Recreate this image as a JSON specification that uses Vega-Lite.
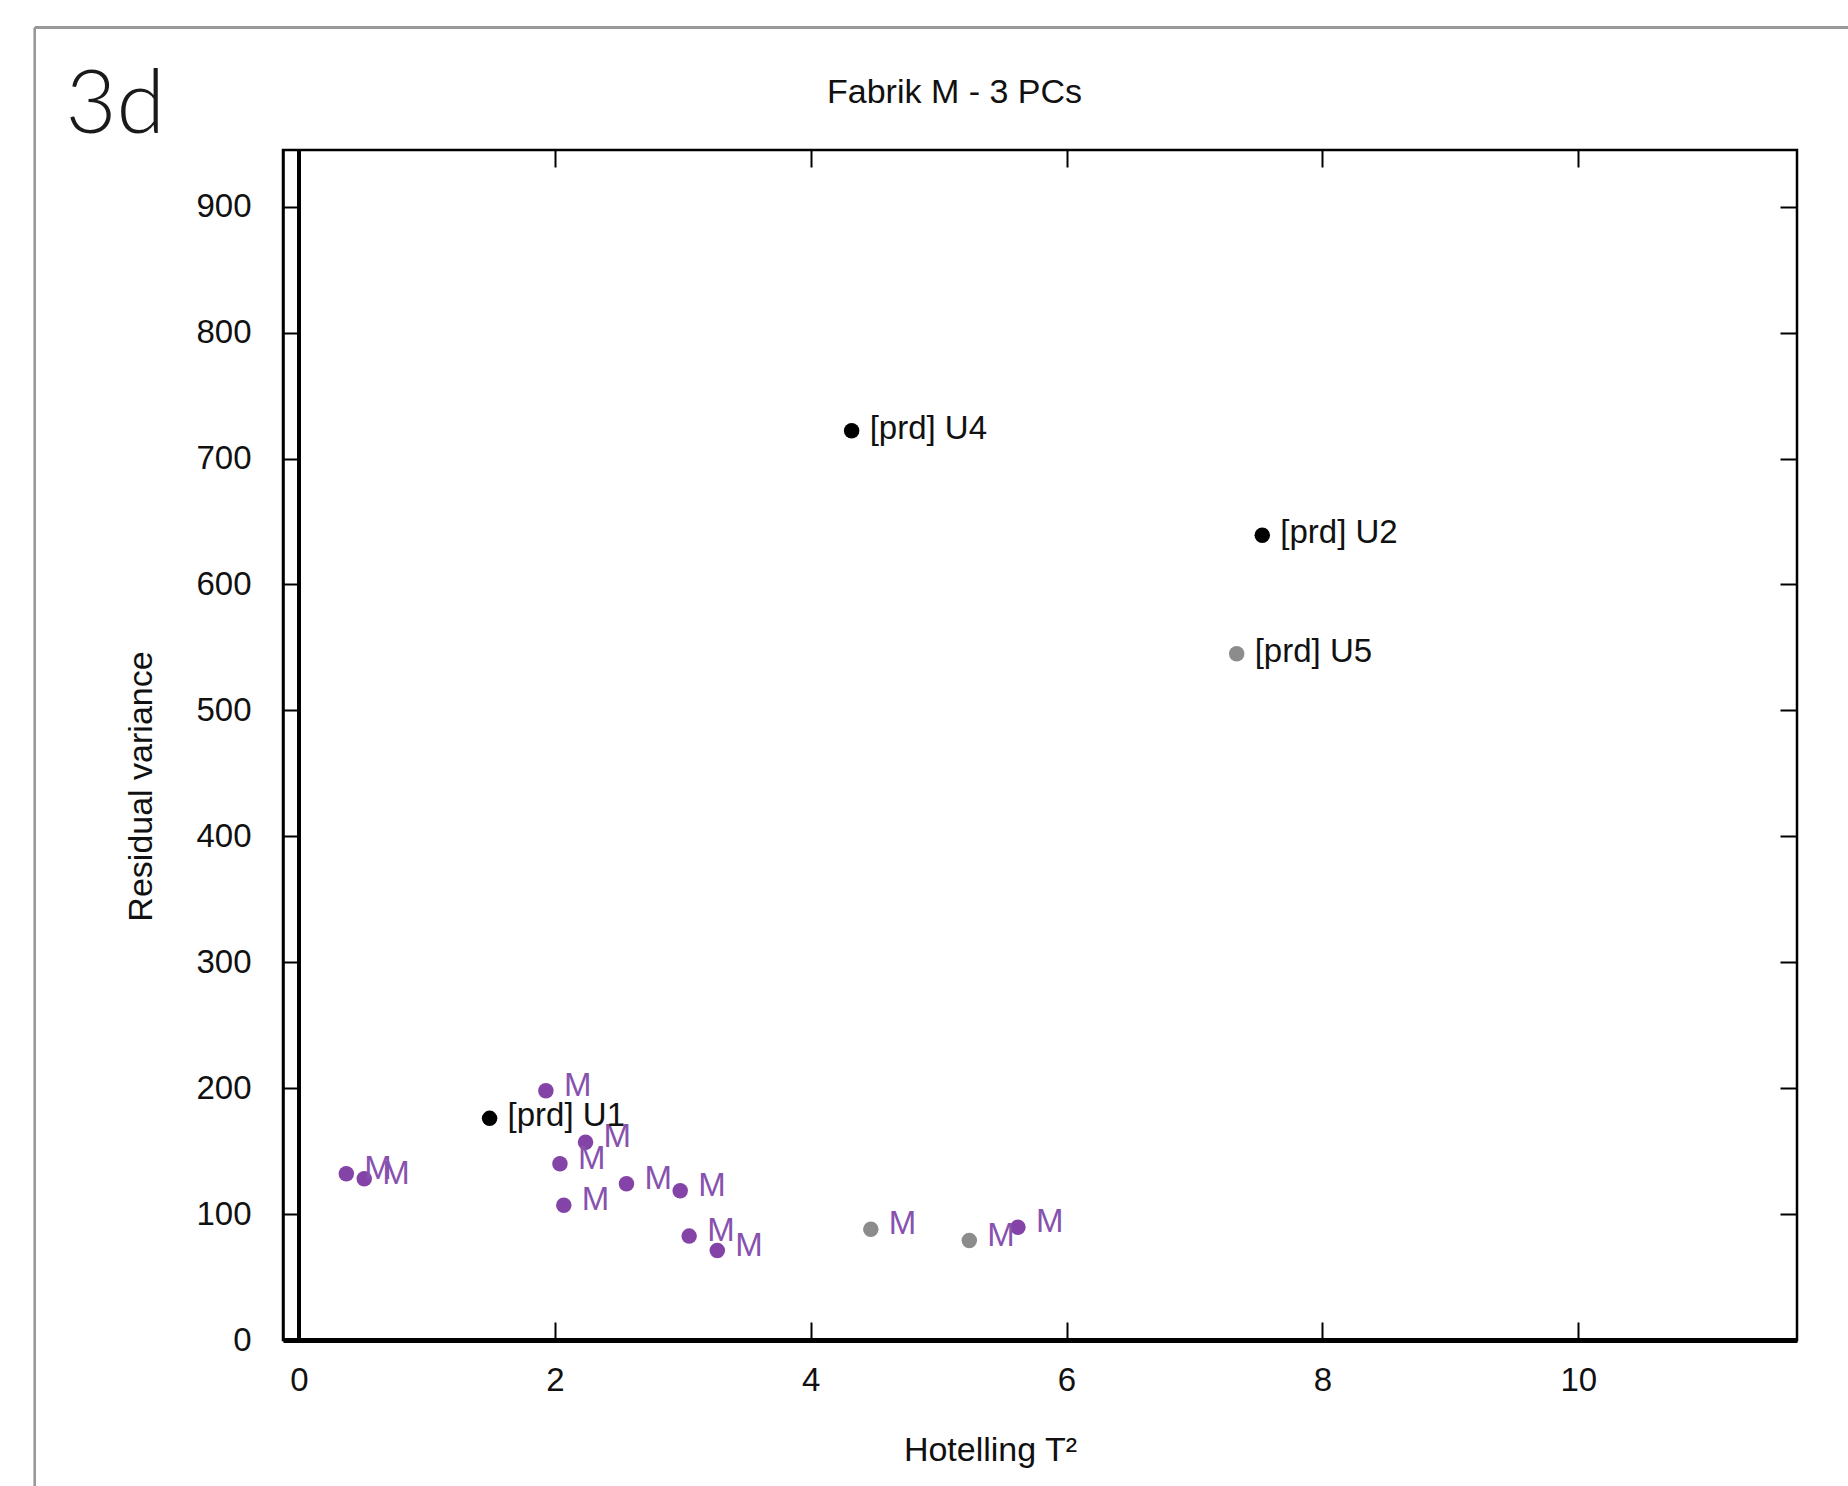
{
  "$schema": "https://vega.github.io/schema/vega-lite/v6.json",
  "width": 1514,
  "height": 1190,
  "autosize": "none",
  "padding": {"left": 283, "top": 150, "right": 51, "bottom": 146},
  "background": "white",
  "config": {
    "view": {"stroke": "#000000", "strokeWidth": 2.5},
    "font": "Liberation Sans",
    "axis": {"grid": false}
  },
  "data": {
    "values": [
      {"T2": 0.37, "RV": 132, "label": "M", "group": "M", "status": "normal"},
      {"T2": 0.51, "RV": 128, "label": "M", "group": "M", "status": "normal"},
      {"T2": 1.93, "RV": 198, "label": "M", "group": "M", "status": "normal"},
      {"T2": 2.24, "RV": 157, "label": "M", "group": "M", "status": "normal"},
      {"T2": 2.04, "RV": 140, "label": "M", "group": "M", "status": "normal"},
      {"T2": 2.07, "RV": 107, "label": "M", "group": "M", "status": "normal"},
      {"T2": 2.56, "RV": 124, "label": "M", "group": "M", "status": "normal"},
      {"T2": 2.98, "RV": 118.5, "label": "M", "group": "M", "status": "normal"},
      {"T2": 3.05, "RV": 82.5, "label": "M", "group": "M", "status": "normal"},
      {"T2": 3.27, "RV": 71, "label": "M", "group": "M", "status": "normal"},
      {"T2": 4.47, "RV": 88, "label": "M", "group": "M", "status": "flagged"},
      {"T2": 5.24, "RV": 79, "label": "M", "group": "M", "status": "flagged"},
      {"T2": 5.62, "RV": 89.5, "label": "M", "group": "M", "status": "normal"},
      {"T2": 1.49, "RV": 176, "label": "[prd] U1", "group": "prd", "status": "normal"},
      {"T2": 4.32, "RV": 722, "label": "[prd] U4", "group": "prd", "status": "normal"},
      {"T2": 7.53, "RV": 639, "label": "[prd] U2", "group": "prd", "status": "normal"},
      {"T2": 7.33, "RV": 545, "label": "[prd] U5", "group": "prd", "status": "flagged"}
    ]
  },
  "layer": [
    {
      "encoding": {
        "x": {
          "field": "T2",
          "type": "quantitative",
          "scale": {"domain": [-0.125, 11.71], "nice": false, "zero": false},
          "axis": {
            "orient": "bottom",
            "values": [0, 2, 4, 6, 8, 10],
            "tickSize": -18,
            "tickWidth": 2,
            "tickColor": "#000000",
            "domain": true,
            "domainColor": "#000000",
            "domainWidth": 5,
            "labelFontSize": 33,
            "labelColor": "#111111",
            "labelPadding": 42,
            "labelOverlap": false,
            "labelFlush": false,
            "title": "Hotelling T²",
            "titleFontSize": 34,
            "titleFontWeight": "normal",
            "titleColor": "#111111",
            "titleX": 707,
            "titleY": 110,
            "titleAlign": "center",
            "titleBaseline": "middle"
          }
        },
        "y": {
          "field": "RV",
          "type": "quantitative",
          "scale": {"domain": [0, 945], "nice": false, "zero": false},
          "axis": {
            "orient": "left",
            "values": [0, 100, 200, 300, 400, 500, 600, 700, 800, 900],
            "tickSize": -17,
            "tickWidth": 2,
            "tickColor": "#000000",
            "domain": true,
            "domainColor": "#000000",
            "domainWidth": 2.5,
            "labelFontSize": 33,
            "labelColor": "#111111",
            "labelPadding": 49,
            "labelOverlap": false,
            "title": "Residual variance",
            "titleFontSize": 34,
            "titleFontWeight": "normal",
            "titleColor": "#111111",
            "titleX": -142,
            "titleY": 636,
            "titleAlign": "center",
            "titleBaseline": "middle"
          }
        }
      },
      "layer": [
        {
          "mark": {"type": "rule", "color": "#999999", "strokeWidth": 2, "clip": false},
          "encoding": {
            "x": {"datum": -2.064},
            "y": {"datum": 1042},
            "y2": {"datum": -300}
          }
        },
        {
          "mark": {"type": "rule", "color": "#999999", "strokeWidth": 2, "clip": false},
          "encoding": {
            "y": {"datum": 1042},
            "x": {"datum": -2.064},
            "x2": {"datum": 14}
          }
        },
        {
          "mark": {"type": "rule", "color": "#000000", "strokeWidth": 2.5},
          "encoding": {
            "x": {"datum": 0},
            "y": {"datum": 0},
            "y2": {"datum": 945}
          }
        },
        {
          "mark": {"type": "point", "filled": true, "opacity": 1, "size": 240},
          "encoding": {
            "color": {
              "condition": [
                {"test": "datum.status === 'flagged'", "value": "#8c8c8c"},
                {"test": "datum.group === 'M'", "value": "#8443A6"}
              ],
              "value": "#000000"
            }
          }
        },
        {
          "transform": [{"filter": "datum.group === 'M'"}],
          "mark": {"type": "text", "align": "left", "baseline": "middle", "dx": 18, "dy": -5, "fontSize": 33, "color": "#8752AE"},
          "encoding": {"text": {"field": "label"}}
        },
        {
          "transform": [{"filter": "datum.group === 'prd'"}],
          "mark": {"type": "text", "align": "left", "baseline": "middle", "dx": 18, "dy": -2, "fontSize": 33, "color": "#111111"},
          "encoding": {"text": {"field": "label"}}
        }
      ]
    },
    {
      "mark": {"type": "point", "opacity": 0},
      "encoding": {
        "x": {
          "field": "T2",
          "type": "quantitative",
          "axis": {
            "orient": "top",
            "values": [0, 2, 4, 6, 8, 10],
            "labels": false,
            "tickSize": -17,
            "tickWidth": 2,
            "tickColor": "#000000",
            "domain": false,
            "title": "Fabrik M - 3 PCs",
            "titleFontSize": 34,
            "titleFontWeight": "normal",
            "titleColor": "#111111",
            "titleX": 671,
            "titleY": -48,
            "titleAlign": "center",
            "titleBaseline": "alphabetic"
          }
        },
        "y": {
          "field": "RV",
          "type": "quantitative",
          "axis": {
            "orient": "right",
            "values": [0, 100, 200, 300, 400, 500, 600, 700, 800, 900],
            "labels": false,
            "tickSize": -17,
            "tickWidth": 2,
            "tickColor": "#000000",
            "domain": false,
            "title": "3d",
            "titleAngle": 0,
            "titleFont": "Lato",
            "titleFontWeight": 300,
            "titleFontSize": 88,
            "titleColor": "#1a1a1a",
            "titleX": -1732,
            "titleY": -18,
            "titleAlign": "left",
            "titleBaseline": "alphabetic"
          }
        }
      }
    }
  ],
  "resolve": {"axis": {"x": "independent", "y": "independent"}}
}
